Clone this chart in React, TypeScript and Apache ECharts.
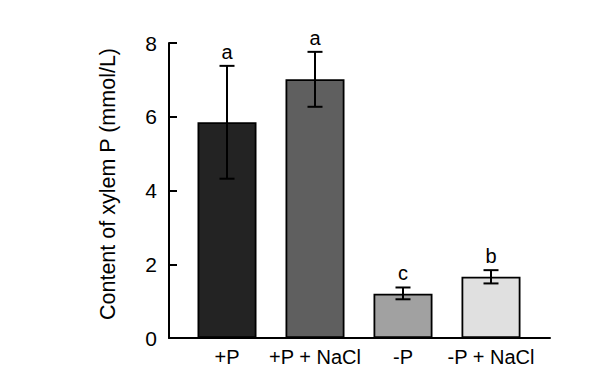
import React, { useEffect, useRef } from "react";
import * as echarts from "echarts";

const categories = ["+P", "+P + NaCl", "-P", "-P + NaCl"];
const means = [5.85, 7.02, 1.2, 1.66];
const errLow = [4.32, 6.27, 1.05, 1.48];
const errHigh = [7.38, 7.76, 1.37, 1.84];
const letters = ["a", "a", "c", "b"];
const barColors = ["#232323", "#5f5f5f", "#a1a1a1", "#e0e0e0"];
const yTicks = [0, 2, 4, 6, 8];
const yName = "Content of xylem P (mmol/L)";

const FONT = "'Liberation Sans', Arial, sans-serif";

export default function App() {
  const ref = useRef<HTMLDivElement>(null);
  useEffect(() => {
    if (!ref.current) return;
    const chart = echarts.init(ref.current, undefined, { renderer: "svg" });
    const option: any = {
      animation: false,
      backgroundColor: "#ffffff",
      grid: [
        { left: 169, right: 41, top: 43, bottom: 38 },
        { left: 183, right: 56, top: 43, bottom: 38 },
      ],
      xAxis: [
        {
          type: "category",
          gridIndex: 0,
          data: categories,
          axisLine: { show: true, lineStyle: { color: "#000", width: 2 } },
          axisTick: { show: false },
          axisLabel: { show: false },
          splitLine: { show: false },
        },
        {
          type: "category",
          gridIndex: 1,
          data: categories,
          axisLine: { show: false },
          axisTick: { show: false },
          axisLabel: {
            show: true,
            interval: 0,
            color: "#000",
            fontSize: 20,
            fontFamily: FONT,
            margin: 9,
          },
          splitLine: { show: false },
        },
      ],
      yAxis: [
        {
          type: "value",
          gridIndex: 0,
          min: yTicks[0],
          max: yTicks[yTicks.length - 1],
          interval: 2,
          axisLine: { show: true, lineStyle: { color: "#000", width: 2 } },
          axisTick: { show: true, inside: true, length: 8, lineStyle: { color: "#000", width: 2 } },
          axisLabel: { color: "#000", fontSize: 21, fontFamily: FONT, margin: 12 },
          splitLine: { show: false },
        },
        {
          type: "value",
          gridIndex: 1,
          min: yTicks[0],
          max: yTicks[yTicks.length - 1],
          interval: 2,
          show: false,
        },
      ],
      graphic: [
        {
          type: "text",
          x: 108,
          y: 184,
          rotation: Math.PI / 2,
          style: {
            text: yName,
            fontSize: 21.5,
            fontFamily: FONT,
            fill: "#000",
            align: "center",
            verticalAlign: "middle",
          },
        },
      ],
      series: [
        {
          type: "bar",
          xAxisIndex: 1,
          yAxisIndex: 1,
          barWidth: 59,
          data: means.map((v, i) => ({
            value: v,
            itemStyle: { color: barColors[i], borderColor: "#000", borderWidth: 1.8 },
          })),
        },
        {
          type: "custom",
          xAxisIndex: 1,
          yAxisIndex: 1,
          z: 5,
          data: means.map((m, i) => [i, m, errLow[i], errHigh[i]]),
          renderItem: (params: any, api: any) => {
            const idx = api.value(0);
            const lo = api.coord([idx, api.value(2)]);
            const hi = api.coord([idx, api.value(3)]);
            const half = 7.5;
            const st = { stroke: "#000", lineWidth: 2 };
            return {
              type: "group",
              children: [
                { type: "line", shape: { x1: lo[0], y1: lo[1], x2: hi[0], y2: hi[1] }, style: st },
                { type: "line", shape: { x1: lo[0] - half, y1: lo[1], x2: lo[0] + half, y2: lo[1] }, style: st },
                { type: "line", shape: { x1: hi[0] - half, y1: hi[1], x2: hi[0] + half, y2: hi[1] }, style: st },
                {
                  type: "text",
                  x: hi[0],
                  y: hi[1] - 4,
                  style: {
                    text: letters[params.dataIndex],
                    fontSize: 20,
                    fontFamily: FONT,
                    fill: "#000",
                    align: "center",
                    verticalAlign: "bottom",
                  },
                },
              ],
            };
          },
        },
      ],
    };
    chart.setOption(option);
    return () => chart.dispose();
  }, []);
  return (
    <div
      ref={ref}
      style={{ position: "fixed", left: 0, top: 0, width: 591, height: 376, background: "#fff" }}
    />
  );
}
